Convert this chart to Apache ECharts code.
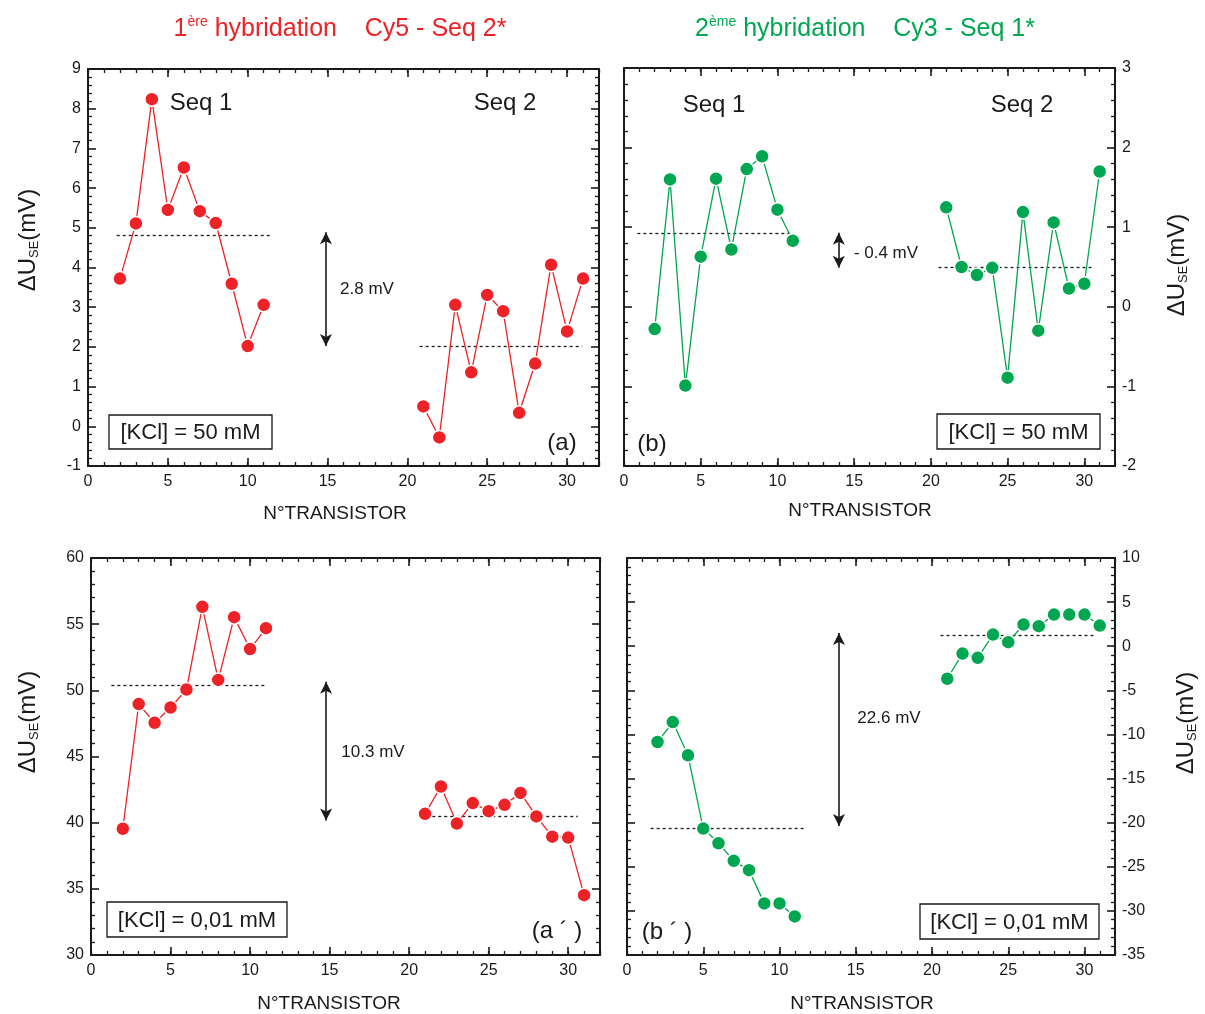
<!DOCTYPE html>
<html>
<head>
<meta charset="utf-8">
<script src="https://cdn.jsdelivr.net/npm/echarts@6/dist/echarts.min.js"></script>
<style>
html,body{margin:0;padding:0;background:#fff;}
#chart{width:1205px;height:1014px;}
</style>
</head>
<body>
<div id="chart"></div>
<script>
// ---------- data ----------
const transistorsSeq1 = [2, 3, 4, 5, 6, 7, 8, 9, 10, 11];
const transistorsSeq2 = [21, 22, 23, 24, 25, 26, 27, 28, 29, 30, 31];

// (a) 1ère hybridation, [KCl] = 50 mM
const a_seq1 = [3.72, 5.11, 8.24, 5.45, 6.52, 5.42, 5.12, 3.59, 2.02, 3.06];
const a_seq2 = [0.50, -0.28, 3.06, 1.36, 3.31, 2.90, 0.34, 1.58, 4.07, 2.39, 3.72];
// (b) 2ème hybridation, [KCl] = 50 mM
const b_seq1 = [-0.28, 1.60, -0.99, 0.63, 1.61, 0.72, 1.73, 1.89, 1.22, 0.83];
const b_seq2 = [1.25, 0.50, 0.40, 0.49, -0.89, 1.19, -0.30, 1.06, 0.23, 0.29, 1.70];
// (a') 1ère hybridation, [KCl] = 0,01 mM
const ap_seq1 = [39.54, 48.96, 47.55, 48.70, 50.06, 56.31, 50.79, 55.53, 53.12, 54.70];
const ap_seq2 = [40.67, 42.73, 39.94, 41.48, 40.87, 41.35, 42.25, 40.47, 38.94, 38.87, 34.52];
// (b') 2ème hybridation, [KCl] = 0,01 mM
const bp_seq1 = [-10.86, -8.60, -12.37, -20.67, -22.33, -24.33, -25.38, -29.15, -29.15, -30.63];
const bp_seq2 = [-3.69, -0.83, -1.32, 1.32, 0.46, 2.46, 2.27, 3.59, 3.59, 3.59, 2.34];

// mean lines: [level, xStart, xEnd]
const a_means  = [[4.81, 1.8, 11.55], [2.02, 20.77, 30.94]];
const b_means  = [[0.93, 0.87, 11.0], [0.50, 20.5, 30.6]];
const ap_means = [[50.41, 1.28, 11.08], [40.47, 20.7, 30.6]];
const bp_means = [[-20.67, 1.55, 11.68], [1.21, 20.56, 30.76]];
// difference arrows: [x, yTop, yBottom]
const a_arrow  = [14.9, 4.89, 2.02];
const b_arrow  = [14.0, 0.93, 0.49];
const ap_arrow = [14.78, 50.64, 40.17];
const bp_arrow = [13.9, 1.51, -20.37];

// axis ranges: [min, max, interval]
const xRange = [0, 32, 5];
const yRanges = [[-1, 9, 1], [-2, 3, 1], [30, 60, 5], [-35, 10, 5]];

// ---------- layout ----------
const RED = '#ec2227';
const GREEN = '#00a650';
const INK = '#1a1a1a';
const FONT = '"Liberation Sans", Arial, sans-serif';

const grids = [
  {left: 88, top: 69, width: 511, height: 397},
  {left: 624, top: 68, width: 491, height: 398},
  {left: 91, top: 558, width: 509, height: 397},
  {left: 627, top: 558, width: 488, height: 397}
];
const labelRight = [false, true, false, true];

const xAxes = [], yAxes = [];
grids.forEach((g, gi) => {
  ['bottom', 'top'].forEach(pos => {
    xAxes.push({
      type: 'value', gridIndex: gi, position: pos,
      min: xRange[0], max: xRange[1], interval: xRange[2],
      axisLine: {show: true, onZero: false, lineStyle: {color: INK, width: 2}},
      axisTick: {show: true, inside: true, length: 8, lineStyle: {color: INK, width: 1.6}},
      axisLabel: {show: pos === 'bottom', margin: 8, color: INK, fontSize: 16, fontFamily: FONT,
        formatter: v => (v % 5 === 0 ? String(v) : '')},
      splitLine: {show: false}
    });
    xAxes.push({
      type: 'value', gridIndex: gi, position: pos,
      min: xRange[0], max: xRange[1], interval: 1,
      axisLine: {show: false, onZero: false},
      axisTick: {show: true, inside: true, length: 4, lineStyle: {color: INK, width: 1.3}},
      axisLabel: {show: false},
      splitLine: {show: false}
    });
  });
  const yr = yRanges[gi];
  ['left', 'right'].forEach(pos => {
    const showLab = (pos === 'right') === labelRight[gi];
    yAxes.push({
      type: 'value', gridIndex: gi, position: pos,
      min: yr[0], max: yr[1], interval: yr[2],
      axisLine: {show: true, onZero: false, lineStyle: {color: INK, width: 2}},
      axisTick: {show: true, inside: true, length: 8, lineStyle: {color: INK, width: 1.6}},
      minorTick: {show: true, splitNumber: 5, length: 4, lineStyle: {color: INK, width: 1.3}},
      axisLabel: {show: showLab, margin: 7, color: INK, fontSize: 16, fontFamily: FONT},
      splitLine: {show: false}, minorSplitLine: {show: false}
    });
  });
});

function pairs(xs, ys) { return xs.map((x, i) => [x, ys[i]]); }

function panelSeries(gi, s1, s2, color, means, arrow) {
  const common = {
    type: 'line', xAxisIndex: gi * 4, yAxisIndex: gi * 2,
    symbol: 'circle', symbolSize: 14,
    lineStyle: {color: color, width: 1.3},
    itemStyle: {color: color, borderColor: '#fff', borderWidth: 1.5},
    emphasis: {disabled: true}, z: 3
  };
  const ml = {
    silent: true, z: 1, animation: false,
    label: {show: false},
    data: [
      ...means.map(m => [
        {coord: [m[1], m[0]], symbol: 'none', lineStyle: {type: [3, 3], color: INK, width: 1.3}},
        {coord: [m[2], m[0]], symbol: 'none'}
      ]),
      [
        {coord: [arrow[0], arrow[1]], symbol: 'arrow', symbolSize: [9, 12], lineStyle: {type: 'solid', color: INK, width: 1.6}},
        {coord: [arrow[0], arrow[2]], symbol: 'arrow', symbolSize: [9, 12]}
      ]
    ]
  };
  return [
    Object.assign({}, common, {data: pairs(transistorsSeq1, s1), markLine: ml}),
    Object.assign({}, common, {data: pairs(transistorsSeq2, s2)})
  ];
}

const series = [
  ...panelSeries(0, a_seq1, a_seq2, RED, a_means, a_arrow),
  ...panelSeries(1, b_seq1, b_seq2, GREEN, b_means, b_arrow),
  ...panelSeries(2, ap_seq1, ap_seq2, RED, ap_means, ap_arrow),
  ...panelSeries(3, bp_seq1, bp_seq2, GREEN, bp_means, bp_arrow)
];

// ---------- text annotations ----------
function txt(x, y, text, size, color, extra) {
  return Object.assign({
    type: 'text', x: x, y: y, silent: true, z: 10,
    style: {text: text, fill: color || INK, font: (size || 16) + 'px ' + FONT,
      align: 'center', verticalAlign: 'middle', textAlign: 'center', textVerticalAlign: 'middle'}
  }, extra || {});
}
function box(x, y, w, h, text) {
  return [
    {type: 'rect', shape: {x: x, y: y, width: w, height: h}, silent: true, z: 10,
     style: {fill: '#fff', stroke: INK, lineWidth: 1.3}},
    txt(x + w / 2, y + h / 2 + 1, text, 22)
  ];
}
function yName(x, y) {
  return {
    type: 'text', x: x, y: y, rotation: Math.PI / 2, silent: true, z: 10,
    style: {
      text: '{m|ΔU}{s|SE}{m|(mV)}',
      align: 'center', verticalAlign: 'middle', textAlign: 'center', textVerticalAlign: 'middle',
      rich: {
        m: {fontSize: 24, fontFamily: FONT, fill: INK, color: INK, lineHeight: 30, verticalAlign: 'middle'},
        s: {fontSize: 13, fontFamily: FONT, fill: INK, color: INK, lineHeight: 30, verticalAlign: 'bottom', padding: [0, 0, 2, 0]}
      }
    }
  };
}
function title(x, y, sup1, sup2, rest, color) {
  return {
    type: 'text', x: x, y: y, silent: true, z: 10,
    style: {
      text: '{n|' + sup1 + '}{s|' + sup2 + '}{n|' + rest + '}',
      align: 'center', verticalAlign: 'middle', textAlign: 'center', textVerticalAlign: 'middle',
      rich: {
        n: {fontSize: 25, fontFamily: FONT, fill: color, color: color, lineHeight: 30, verticalAlign: 'middle'},
        s: {fontSize: 14, fontFamily: FONT, fill: color, color: color, lineHeight: 30, verticalAlign: 'top', padding: [1, 0, 0, 0]}
      }
    }
  };
}

const graphics = [
  title(340, 29, '1', 'ère', ' hybridation    Cy5 - Seq 2*', RED),
  title(865, 29, '2', 'ème', ' hybridation    Cy3 - Seq 1*', GREEN),
  // (a)
  txt(201, 103, 'Seq 1', 24), txt(505, 103, 'Seq 2', 24),
  txt(367, 289, '2.8 mV', 17),
  ...box(109, 415, 163, 34, '[KCl] = 50 mM'),
  txt(562, 443, '(a)', 24),
  // (b)
  txt(714, 105, 'Seq 1', 24), txt(1022, 105, 'Seq 2', 24),
  txt(886, 253, '- 0.4 mV', 17),
  ...box(937, 414, 163, 35, '[KCl] = 50 mM'),
  txt(652, 444, '(b)', 24),
  // (a')
  txt(373, 752, '10.3 mV', 17),
  ...box(107, 902, 180, 35, '[KCl] = 0,01 mM'),
  txt(557, 931, '(a ´ )', 24),
  // (b')
  txt(889, 718, '22.6 mV', 17),
  ...box(920, 904, 179, 35, '[KCl] = 0,01 mM'),
  txt(667, 932, '(b ´ )', 24),
  // axis names
  txt(335, 514, 'N°TRANSISTOR', 19), txt(860, 511, 'N°TRANSISTOR', 19),
  txt(329, 1004, 'N°TRANSISTOR', 19), txt(862, 1004, 'N°TRANSISTOR', 19),
  yName(28, 240), yName(1177, 265), yName(28, 722), yName(1186, 723)
];

const chart = echarts.init(document.getElementById('chart'), null, {renderer: 'canvas'});
chart.setOption({
  animation: false,
  backgroundColor: '#fff',
  grid: grids,
  xAxis: xAxes,
  yAxis: yAxes,
  series: series,
  graphic: {elements: graphics}
});
</script>
</body>
</html>
